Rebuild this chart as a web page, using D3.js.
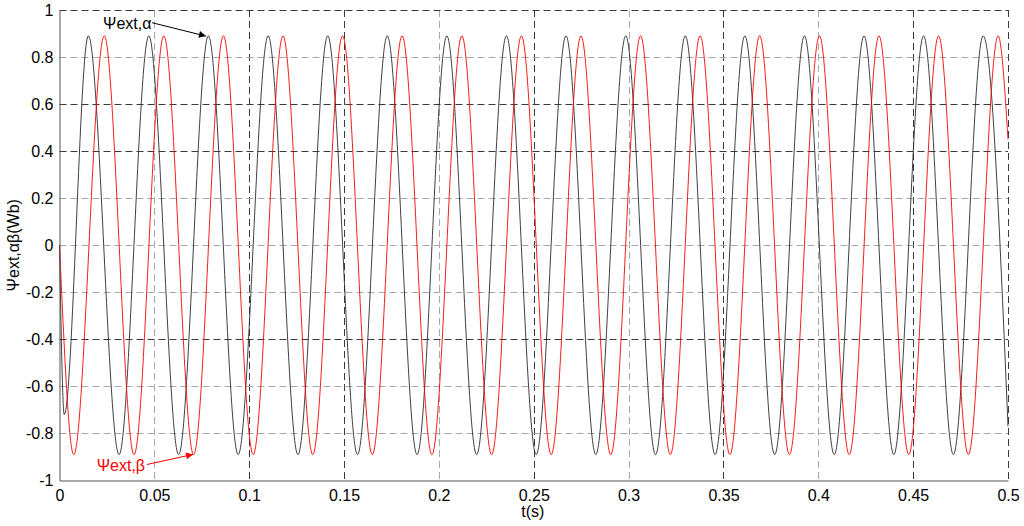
<!DOCTYPE html>
<html><head><meta charset="utf-8">
<script src="https://cdn.jsdelivr.net/npm/d3@7"></script>
<style>
body{margin:0;background:#fff;}
text{font-family:"Liberation Sans",Arial,sans-serif;}
</style></head>
<body><svg id="c" width="1024" height="526"></svg>
<script>
// ---- data ----
const blackT = [0, 0.0025, 0.0152, 0.0314, 0.0471, 0.0628, 0.0785, 0.0942, 0.1100, 0.1257, 0.1414, 0.1571, 0.1728, 0.1885, 0.2042, 0.2199, 0.2356, 0.2513, 0.2670, 0.2827, 0.2985, 0.3142, 0.3299, 0.3456, 0.3613, 0.3770, 0.3927, 0.4084, 0.4241, 0.4398, 0.4555, 0.4712, 0.4869, 0.5];
const blackV = [0, -0.72, 0.89, -0.89, 0.89, -0.89, 0.89, -0.89, 0.89, -0.89, 0.89, -0.89, 0.89, -0.89, 0.89, -0.89, 0.89, -0.89, 0.89, -0.89, 0.89, -0.89, 0.89, -0.89, 0.89, -0.89, 0.89, -0.89, 0.89, -0.89, 0.89, -0.89, 0.89, -0.77];
const redT = [0, 0.0075, 0.0236, 0.0393, 0.0550, 0.0707, 0.0864, 0.1021, 0.1178, 0.1335, 0.1492, 0.1649, 0.1806, 0.1963, 0.2121, 0.2278, 0.2435, 0.2592, 0.2749, 0.2906, 0.3063, 0.3220, 0.3377, 0.3534, 0.3691, 0.3848, 0.4006, 0.4163, 0.4320, 0.4477, 0.4634, 0.4791, 0.4948, 0.5];
const redV = [0, -0.89, 0.89, -0.89, 0.89, -0.89, 0.89, -0.89, 0.89, -0.89, 0.89, -0.89, 0.89, -0.89, 0.89, -0.89, 0.89, -0.89, 0.89, -0.89, 0.89, -0.89, 0.89, -0.89, 0.89, -0.89, 0.89, -0.89, 0.89, -0.89, 0.89, -0.89, 0.89, 0.45];
const xTicks = [0, 0.05, 0.1, 0.15, 0.2, 0.25, 0.3, 0.35, 0.4, 0.45, 0.5];
const xTickLabels = ["0", "0.05", "0.1", "0.15", "0.2", "0.25", "0.3", "0.35", "0.4", "0.45", "0.5"];
const yTicks = [-1, -0.8, -0.6, -0.4, -0.2, 0, 0.2, 0.4, 0.6, 0.8, 1];
const yTickLabels = ["-1", "-0.8", "-0.6", "-0.4", "-0.2", "0", "0.2", "0.4", "0.6", "0.8", "1"];
const seriesNames = ["\u03A8ext,\u03B1", "\u03A8ext,\u03B2"];
const xLabel = "t(s)";
const yLabel = "\u03A8ext,\u03B1\u03B2(Wb)";

// grid appearance (dark vs light dashed lines, as rendered in the reference)
const darkGridX = [0.1, 0.15, 0.25, 0.35, 0.45, 0.5];
const darkGridY = [1, 0.6, 0.4, -0.4];

// ---- layout ----
const L = 59.5, R = 1008, T = 10, B = 480.5;
const svg = d3.select("#c");
const x = d3.scaleLinear().domain([0, 0.5]).range([L, R]);
const y = d3.scaleLinear().domain([-1, 1]).range([B, T]);

// grid
const g = svg.append("g");
xTicks.filter(v => v > 0).forEach(v => {
  const dark = darkGridX.includes(v);
  g.append("line").attr("x1", Math.round(x(v)) + 0.5).attr("x2", Math.round(x(v)) + 0.5)
    .attr("y1", T).attr("y2", B)
    .attr("stroke", dark ? "#3a3a3a" : "#a8a8a8").attr("stroke-width", 1)
    .attr("stroke-dasharray", "7,4");
});
yTicks.filter(v => v > -1).forEach(v => {
  const dark = darkGridY.includes(v);
  g.append("line").attr("x1", L).attr("x2", R)
    .attr("y1", Math.round(y(v)) + 0.5).attr("y2", Math.round(y(v)) + 0.5)
    .attr("stroke", dark ? "#3a3a3a" : "#a8a8a8").attr("stroke-width", 1)
    .attr("stroke-dasharray", "7,4");
});

// series
const line = d3.line().x(d => x(d[0])).y(d => y(d[1])).curve(d3.curveMonotoneX);
const blackData = blackT.map((t, i) => [t, blackV[i]]);
const redData = redT.map((t, i) => [t, redV[i]]);
svg.append("path").datum(blackData).attr("d", line)
  .attr("fill", "none").attr("stroke", "#2a2a2a").attr("stroke-width", 0.9);
svg.append("path").datum(redData).attr("d", line)
  .attr("fill", "none").attr("stroke", "#ff0000").attr("stroke-width", 0.9);

// axes
const xAxis = d3.axisBottom(x).tickValues(xTicks).tickFormat((d, i) => xTickLabels[i]).tickSize(0).tickPadding(9);
const yAxis = d3.axisLeft(y).tickValues(yTicks).tickFormat((d, i) => yTickLabels[i]).tickSize(0).tickPadding(6);
const gx = svg.append("g").attr("transform", `translate(0,${B})`).call(xAxis);
const gy = svg.append("g").attr("transform", `translate(${L},0)`).call(yAxis);
[gx, gy].forEach(a => {
  a.select(".domain").attr("stroke", "#555").attr("stroke-width", 1);
  a.selectAll("text").attr("font-size", 16).attr("fill", "#000")
    .attr("font-family", "'Liberation Sans', Arial, sans-serif");
});

// axis labels
svg.append("text").attr("x", (L + R) / 2 - 1).attr("y", 517).attr("text-anchor", "middle")
  .attr("font-size", 16).text(xLabel);
svg.append("text").attr("transform", `translate(19,${(T + B) / 2}) rotate(-90)`)
  .attr("text-anchor", "middle").attr("font-size", 16).text(yLabel);

// annotations
const defs = svg.append("defs");
function marker(id, color) {
  defs.append("marker").attr("id", id).attr("viewBox", "0 0 10 10")
    .attr("refX", 10).attr("refY", 5).attr("markerWidth", 11).attr("markerHeight", 7)
    .attr("markerUnits", "userSpaceOnUse").attr("orient", "auto")
    .append("path").attr("d", "M0,0 L10,5 L0,10 Z").attr("fill", color);
}
marker("arrK", "#000");
marker("arrR", "#ff0000");

svg.append("text").attr("x", x(0.0485)).attr("y", y(0.945)).attr("dy", "0.35em")
  .attr("text-anchor", "end").attr("font-size", 16).attr("fill", "#000").text(seriesNames[0]);
svg.append("line").attr("x1", x(0.0488)).attr("y1", y(0.946)).attr("x2", x(0.0772)).attr("y2", y(0.889))
  .attr("stroke", "#000").attr("stroke-width", 1).attr("marker-end", "url(#arrK)");

svg.append("text").attr("x", x(0.0451)).attr("y", y(-0.935)).attr("dy", "0.35em")
  .attr("text-anchor", "end").attr("font-size", 16).attr("fill", "#ff0000").text(seriesNames[1]);
svg.append("line").attr("x1", x(0.0461)).attr("y1", y(-0.932)).attr("x2", x(0.0704)).attr("y2", y(-0.889))
  .attr("stroke", "#ff0000").attr("stroke-width", 1).attr("marker-end", "url(#arrR)");
</script>
</body></html>
